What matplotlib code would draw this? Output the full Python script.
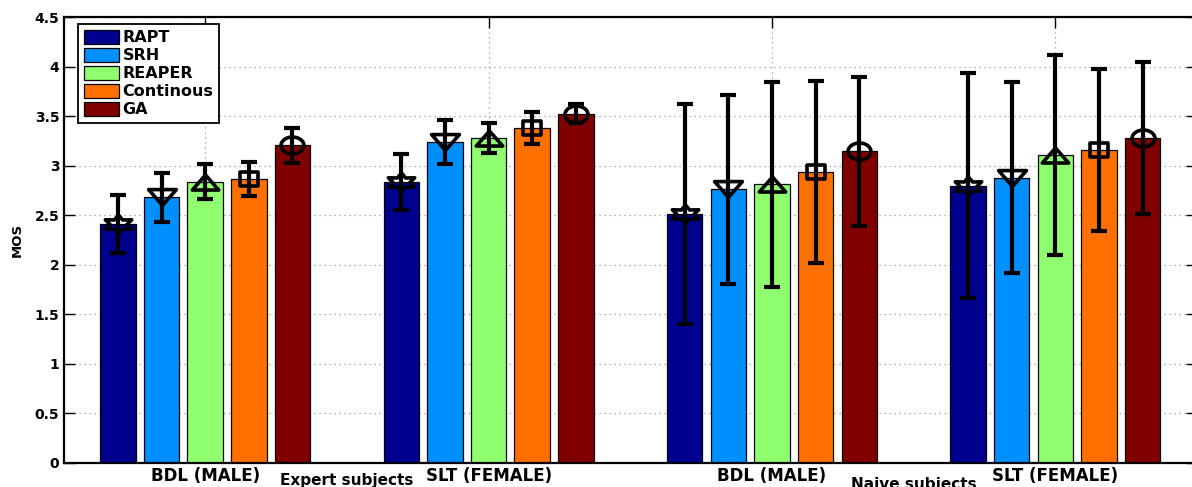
import numpy as np
import matplotlib
matplotlib.use("Agg")
import matplotlib.pyplot as plt
from matplotlib.path import Path

# groups on x axis
groups = ['BDL (MALE)', 'SLT (FEMALE)', 'BDL (MALE)', 'SLT (FEMALE)']
subject_labels = ['Expert subjects', 'Naive subjects']
methods = ['RAPT', 'SRH', 'REAPER', 'Continous', 'GA']

# MOS means per method (Expert BDL, Expert SLT, Naive BDL, Naive SLT)
rapt = [2.41, 2.835, 2.51, 2.795]
srh = [2.68, 3.24, 2.76, 2.88]
reaper = [2.84, 3.28, 2.81, 3.11]
continous = [2.865, 3.38, 2.935, 3.16]
ga = [3.205, 3.525, 3.145, 3.28]

# half-width of the error bars
rapt_err = [0.29, 0.285, 1.11, 1.135]
srh_err = [0.245, 0.22, 0.95, 0.96]
reaper_err = [0.18, 0.15, 1.03, 1.01]
continous_err = [0.175, 0.16, 0.915, 0.82]
ga_err = [0.175, 0.095, 0.75, 0.77]

yticks = [0, 0.5, 1, 1.5, 2, 2.5, 3, 3.5, 4, 4.5]
ytick_labels = ['0', '0.5', '1', '1.5', '2', '2.5', '3', '3.5', '4', '4.5']

means = [rapt, srh, reaper, continous, ga]
errs = [rapt_err, srh_err, reaper_err, continous_err, ga_err]
colors = ['#00008F', '#008FFF', '#8FFF70', '#FF7000', '#800000']


# markers are a bit wider than tall in the reference
def stretched(verts, sx=1.0, sy=1.0):
    v = np.array(verts, dtype=float) * [sx, sy]
    codes = [Path.MOVETO] + [Path.LINETO] * (len(v) - 1) + [Path.CLOSEPOLY]
    v = np.vstack([v, v[:1]])
    return Path(v, codes)


ang = np.deg2rad(np.arange(0, 360, 30) + 90)
rad = np.where(np.arange(12) % 2 == 0, 1.0, 0.55)
hexagram = stretched(np.c_[rad * np.cos(ang), rad * np.sin(ang)], 1.0, 0.62)
tri_down = stretched([(-1, 0.57), (1, 0.57), (0, -0.57)])
tri_up = stretched([(-1, -0.57), (1, -0.57), (0, 0.57)])
square = stretched([(-1, -0.78), (1, -0.78), (1, 0.78), (-1, 0.78)])
t = np.linspace(0, 2 * np.pi, 41)[:-1]
ellipse = stretched(np.c_[np.cos(t), 0.74 * np.sin(t)])
markers = [hexagram, tri_down, tri_up, square, ellipse]
msizes = [19, 20, 19, 13, 16.5]

fig = plt.figure(figsize=(11.92, 4.87), dpi=100)
ax = fig.add_axes([63.5 / 1192, 24 / 487, (1197 - 63.5) / 1192, 446 / 487])

x = np.arange(1, len(groups) + 1)
slot = 0.154
width = 0.125
for i in range(len(methods)):
    xs = x + (i - 2) * slot
    ax.bar(xs, means[i], width, color=colors[i], edgecolor='black',
           linewidth=0.9, label=methods[i], zorder=2)
    ax.errorbar(xs, means[i], yerr=errs[i], fmt='none', ecolor='black',
                elinewidth=3, capsize=6, capthick=3, zorder=3)
    ax.plot(xs, means[i], linestyle='none', marker=markers[i],
            markersize=msizes[i], markerfacecolor='none',
            markeredgecolor='black', markeredgewidth=2.6, zorder=4)

ax.set_xlim(0.5, 4.5)
ax.set_ylim(0, 4.5)
ax.set_xticks(x)
ax.set_xticklabels(groups, fontsize=12, fontweight='bold')
ax.set_yticks(yticks)
ax.set_yticklabels(ytick_labels, fontsize=10, fontweight='bold')
ax.set_ylabel('MOS', fontsize=9.5, fontweight='bold', labelpad=8)
ax.tick_params(which='both', direction='in', top=True, right=True,
               length=8, width=1, pad=3)
ax.grid(True, color='0.6', linestyle=(0, (1, 3)), linewidth=0.9)
ax.set_axisbelow(True)
for s in ax.spines.values():
    s.set_linewidth(1.6)

ax.text(1.5, -0.105, subject_labels[0], ha='center', va='top',
        fontsize=11, fontweight='bold', clip_on=False)
ax.text(3.5, -0.14, subject_labels[1], ha='center', va='top',
        fontsize=11, fontweight='bold', clip_on=False)

leg = ax.legend(loc='upper left', bbox_to_anchor=(0.0128, 0.984),
                borderaxespad=0, fancybox=False, framealpha=1,
                edgecolor='black', prop={'weight': 'bold', 'size': 11.5},
                handlelength=2.2, handleheight=1.0, handletextpad=0.25,
                labelspacing=0.15, borderpad=0.35)
leg.get_frame().set_linewidth(1.3)

fig.savefig('out.png', dpi=100)
